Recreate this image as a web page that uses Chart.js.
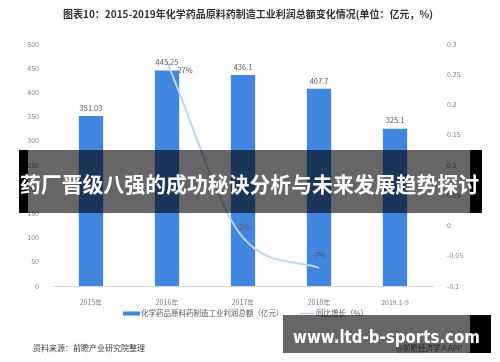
<!DOCTYPE html>
<html>
<head>
<meta charset="utf-8">
<script src="https://cdn.jsdelivr.net/npm/chart.js@4/dist/chart.umd.min.js"></script>
<style>
html,body{margin:0;padding:0;background:#fff;}
#wrap{position:relative;width:500px;height:362px;}
canvas{display:block;}
</style>
</head>
<body>
<div id="wrap"><canvas id="c" width="500" height="362"></canvas></div>
<script>
const categories = ['2015年', '2016年', '2017年', '2018年', '2019.1-9'];
const profitValues = [351.03, 445.25, 436.1, 407.7, 325.1];
const growthValues = [null, 0.27, -0.02, -0.07, null];
const leftTicks = [0, 50, 100, 150, 200, 250, 300, 350, 400, 450, 500];
const rightTicks = [-0.1, -0.05, 0, 0.05, 0.1, 0.15, 0.2, 0.25, 0.3];
const chartTitle = '图表10：2015-2019年化学药品原料药制造工业利润总额变化情况(单位：亿元，%)';
const seriesNames = ['化学药品原料药制造工业利润总额（亿元）', '同比增长（%）'];
const sourceText = '资料来源：前瞻产业研究院整理';
const appText = '@前瞻经济学人APP';
const bannerText = '药厂晋级八强的成功秘诀分析与未来发展趋势探讨';
const siteText = 'www.ltd-b-sports.com';

const CJK = '"Noto Sans CJK SC", "Noto Sans", sans-serif';
const BAR = '#4186e0';
const LINE = '#bcd5f3';

const overlay = {
  id: 'overlay',
  afterDatasetsDraw(chart) {
    const ctx = chart.ctx;
    ctx.save();
    // bar value labels
    const barMeta = chart.getDatasetMeta(0);
    ctx.font = '7.5px ' + CJK;
    ctx.fillStyle = '#595959';
    ctx.textAlign = 'center';
    ctx.textBaseline = 'middle';
    barMeta.data.forEach((el, i) => {
      ctx.fillText(String(profitValues[i]), el.x, el.y - 8);
    });
    // line labels
    const lineMeta = chart.getDatasetMeta(1);
    const offs = {1: [18, 8], 2: [0, -10], 3: [0, -13]};
    lineMeta.data.forEach((el, i) => {
      const v = growthValues[i];
      if (v === null || el.skip) return;
      const o = offs[i] || [0, -10];
      ctx.fillText(Math.round(v * 100) + '%', el.x + o[0], el.y + o[1]);
    });
    ctx.restore();
  },
  afterDraw(chart) {
    const ctx = chart.ctx;
    ctx.save();
    // title
    ctx.font = 'bold 10px ' + CJK;
    ctx.fillStyle = '#333333';
    ctx.textAlign = 'center';
    ctx.textBaseline = 'middle';
    ctx.fillText(chartTitle, 248, 14);
    // legend
    ctx.fillStyle = BAR;
    ctx.fillRect(123, 311.5, 17, 4);
    ctx.font = '7.5px ' + CJK;
    ctx.fillStyle = '#595959';
    ctx.textAlign = 'left';
    ctx.fillText(seriesNames[0], 141, 313.5);
    ctx.strokeStyle = LINE;
    ctx.lineWidth = 1.5;
    ctx.beginPath(); ctx.moveTo(300, 313.5); ctx.lineTo(314, 313.5); ctx.stroke();
    ctx.fillText(seriesNames[1], 316, 313.5);
    // source
    ctx.font = '8px ' + CJK;
    ctx.fillStyle = '#404040';
    ctx.fillText(sourceText, 33, 348);
    ctx.font = '7.5px ' + CJK;
    ctx.fillStyle = '#595959';
    ctx.fillText(appText, 396, 348);
    // banner
    ctx.fillStyle = '#000';
    ctx.fillRect(19, 150, 9, 63);
    ctx.fillRect(470, 150, 12, 63);
    ctx.fillStyle = 'rgba(0,0,0,0.6)';
    ctx.fillRect(28, 150, 442, 63);
    ctx.font = 'bold 21px ' + CJK;
    ctx.fillStyle = '#ffffff';
    ctx.textAlign = 'center';
    let w = ctx.measureText(bannerText).width;
    ctx.save();
    ctx.translate(249.5, 184);
    ctx.scale(459 / w, 1);
    ctx.fillText(bannerText, 0, 0);
    ctx.restore();
    // site box
    ctx.fillStyle = 'rgba(0,0,0,0.6)';
    ctx.fillRect(283, 315, 187, 38);
    ctx.fillStyle = '#000';
    ctx.fillRect(470, 315, 21, 38);
    ctx.font = 'bold 18px "DejaVu Sans", sans-serif';
    ctx.fillStyle = '#ffffff';
    ctx.textAlign = 'left';
    w = ctx.measureText(siteText).width;
    ctx.save();
    ctx.translate(293, 338);
    ctx.scale(187 / w, 1);
    ctx.fillText(siteText, 0, 0);
    ctx.restore();
    ctx.restore();
  }
};

new Chart(document.getElementById('c'), {
  data: {
    labels: categories,
    datasets: [
      {
        type: 'bar',
        label: seriesNames[0],
        data: profitValues,
        backgroundColor: BAR,
        yAxisID: 'y',
        barPercentage: 0.32,
        categoryPercentage: 1,
        order: 2
      },
      {
        type: 'line',
        label: seriesNames[1],
        data: growthValues,
        borderColor: LINE,
        borderWidth: 2,
        pointRadius: 0,
        tension: 0.4,
        cubicInterpolationMode: 'monotone',
        yAxisID: 'y1',
        order: 1
      }
    ]
  },
  options: {
    responsive: false,
    animation: false,
    layout: { padding: { top: 44, left: 0, right: 0, bottom: 0 } },
    plugins: { legend: { display: false }, title: { display: false }, tooltip: { enabled: false } },
    scales: {
      x: {
        grid: { display: false },
        border: { display: true, color: '#d9d9d9', width: 1 },
        ticks: { color: '#7f7f7f', font: { size: 7, family: CJK }, padding: 4, maxRotation: 0 },
        afterFit(s) { s.height = 76; }
      },
      y: {
        position: 'left',
        min: 0, max: 500,
        afterBuildTicks(s) { s.ticks = leftTicks.map(v => ({ value: v })); },
        grid: { display: false },
        border: { display: false },
        ticks: { color: '#7f7f7f', font: { size: 7, family: CJK }, padding: 6 },
        afterFit(s) { s.width = 53; }
      },
      y1: {
        position: 'right',
        min: -0.1, max: 0.3,
        afterBuildTicks(s) { s.ticks = rightTicks.map(v => ({ value: v })); },
        grid: { display: false },
        border: { display: false },
        ticks: { color: '#7f7f7f', font: { size: 7, family: CJK }, padding: 6,
          callback: v => String(Math.round(v * 100) / 100) },
        afterFit(s) { s.width = 67; }
      }
    }
  },
  plugins: [overlay]
});
</script>
</body>
</html>
